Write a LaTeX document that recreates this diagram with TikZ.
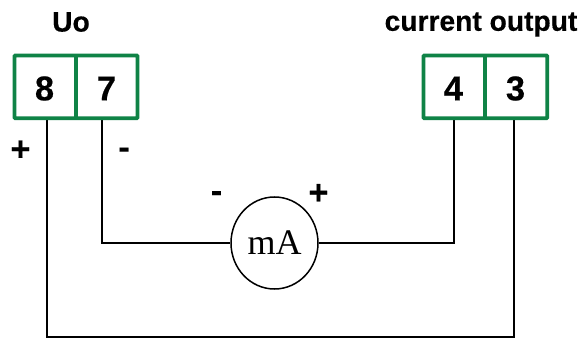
\documentclass[tikz,border=0pt]{standalone}
\usepackage{fontspec}
\setmainfont[BoldFeatures={FakeBold=0.4}]{Liberation Sans}
\newfontfamily\serifface{Liberation Serif}
\definecolor{termgreen}{RGB}{15,131,70}
\tikzset{
  x=1pt,y=-1pt,
  termbox/.style={draw=termgreen,line width=3.8pt,rounded corners=0.8pt},
  termdiv/.style={draw=termgreen,line width=3.8pt},
  wire/.style={draw=black,line width=2pt,line join=miter},
  numlabel/.style={font=\fontsize{34.5}{34}\selectfont\bfseries,inner sep=0pt},
  head/.style={font=\fontsize{28.2}{28}\selectfont\bfseries,inner sep=0pt},
  sign/.style={font=\fontsize{34}{33}\selectfont\bfseries,inner sep=0pt},
  meter/.style={draw=black,line width=1.5pt,ellipse,minimum width=87pt,minimum height=92pt,inner sep=0pt,font=\serifface\fontsize{36}{36}\selectfont}
}
\usetikzlibrary{shapes.geometric}
\begin{document}
\begin{tikzpicture}
\useasboundingbox (0,0) rectangle (579,339);
\coordinate (t8) at (46.5,120);
\coordinate (t7) at (102,120);
\coordinate (t4) at (454,120);
\coordinate (t3) at (513.7,120);
\coordinate (bl) at (46.5,337.3);
\coordinate (br) at (513.7,337.3);
\coordinate (ml) at (102,243);
\coordinate (mr) at (454,243);
\node[meter] (mA) at (274.5,243) {mA};
\draw[wire] (t7) -- (ml) -- (mA.west);
\draw[wire] (t4) -- (mr) -- (mA.east);
\draw[wire] (t8) -- (bl) -- (br) -- (t3);
\draw[termbox] (14.5,55.5) rectangle (137.5,118.2);
\draw[termdiv] (76,55.5) -- (76,118.2);
\draw[termbox] (423.5,55.5) rectangle (547.3,118.2);
\draw[termdiv] (485.3,55.5) -- (485.3,118.2);
\node[numlabel] (n8) at (44.5,88.5) {8};
\node[numlabel] (n7) at (106.5,88.5) {7};
\node[numlabel] (n4) at (453.5,88.5) {4};
\node[numlabel] (n3) at (515.5,88.5) {3};
\node[head] (uo) at (71,22) {Uo};
\node[head] (co) at (481,24.5) {current output};
\node[sign] (p1) at (20.5,150.5) {+};
\node[sign] (m1) at (124,153) {-};
\node[sign] (m2) at (216.5,196.5) {-};
\node[sign] (p2) at (318.5,194) {+};
\end{tikzpicture}
\end{document}
